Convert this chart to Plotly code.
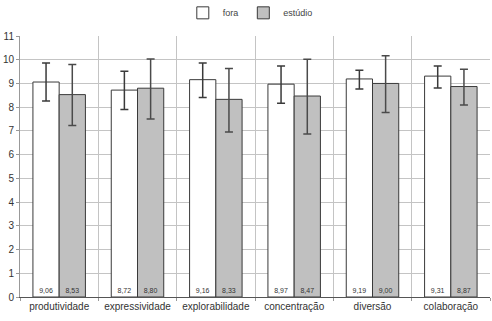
import plotly.graph_objects as go

categories = ["produtividade", "expressividade", "explorabilidade", "concentração", "diversão", "colaboração"]
fora = [9.06, 8.72, 9.16, 8.97, 9.19, 9.31]
estudio = [8.53, 8.80, 8.33, 8.47, 9.00, 8.87]
fora_err_plus = [0.80, 0.79, 0.70, 0.77, 0.37, 0.43]
fora_err_minus = [0.80, 0.82, 0.75, 0.80, 0.42, 0.50]
estudio_err_plus = [1.27, 1.23, 1.30, 1.55, 1.17, 0.73]
estudio_err_minus = [1.30, 1.30, 1.38, 1.60, 1.22, 0.78]

fig = go.Figure()
fig.add_trace(go.Bar(
    name="fora", x=categories, y=fora,
    marker=dict(color="white", line=dict(color="#3a3a3a", width=1)),
    error_y=dict(type="data", array=fora_err_plus, arrayminus=fora_err_minus,
                 color="#3a3a3a", thickness=1.5, width=4),
    texttemplate="%{y:.2f}", textposition="inside", insidetextanchor="start",
    textfont=dict(size=7, color="#333", family="Liberation Sans"), textangle=0,
))
fig.add_trace(go.Bar(
    name="estúdio", x=categories, y=estudio,
    marker=dict(color="#c0c0c0", line=dict(color="#3a3a3a", width=1)),
    error_y=dict(type="data", array=estudio_err_plus, arrayminus=estudio_err_minus,
                 color="#4a4a4a", thickness=1.5, width=4),
    texttemplate="%{y:.2f}", textposition="inside", insidetextanchor="start",
    textfont=dict(size=7, color="#333", family="Liberation Sans"), textangle=0,
))

fig.update_layout(
    width=492, height=321,
    margin=dict(l=20, r=2, t=36, b=24, autoexpand=False),
    barmode="group", bargap=0.33, bargroupgap=0,
    separators=",.",
    plot_bgcolor="white", paper_bgcolor="white",
    font=dict(family="Liberation Sans", size=10, color="#444"),
    showlegend=True,
    legend=dict(orientation="h", x=0.49, xanchor="center", yref="container",
                y=0.96, yanchor="middle",
                font=dict(size=9, color="#444"), itemwidth=30,
                traceorder="normal"),
    uniformtext=dict(minsize=6, mode="show"),
)
fig.update_xaxes(
    type="category", tickson="boundaries", showgrid=True, gridcolor="#c4c4c4", gridwidth=1,
    ticks="outside", ticklen=3, tickcolor="#999",
    showline=True, linecolor="#555", linewidth=1, mirror=False,
    tickfont=dict(size=10, color="#333"),
)
fig.update_yaxes(
    range=[0, 11], dtick=1, showgrid=True, gridcolor="#c4c4c4", gridwidth=1,
    ticks="outside", ticklen=3, tickcolor="#999",
    showline=True, linecolor="#999", linewidth=1,
    zeroline=False, tickfont=dict(size=10, color="#333"),
)

fig.write_html("out.html")
